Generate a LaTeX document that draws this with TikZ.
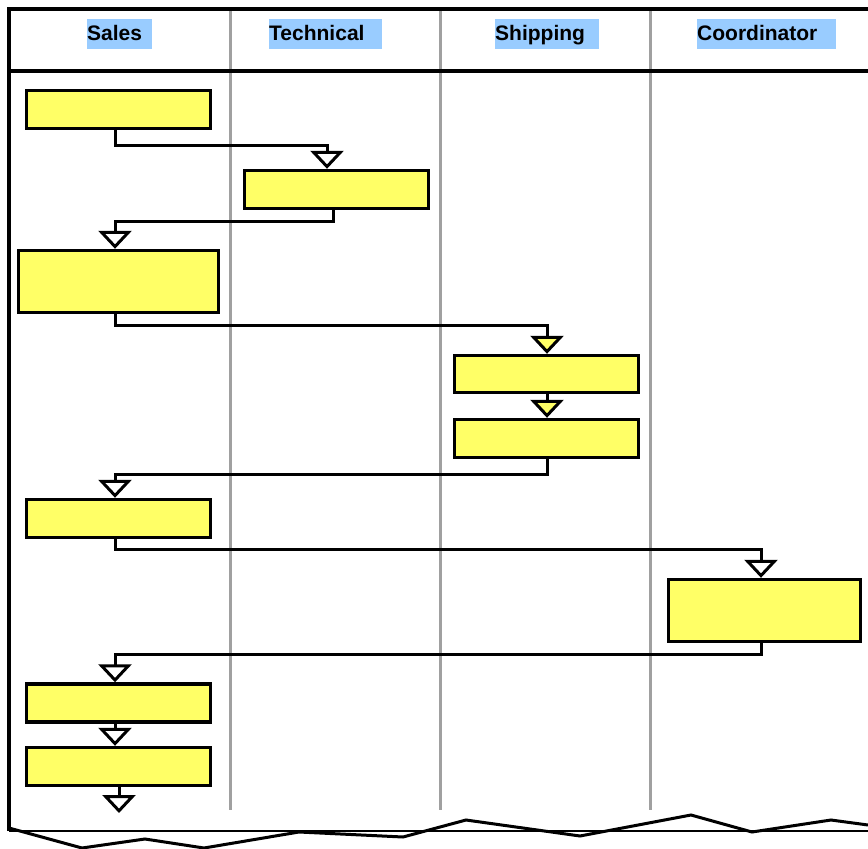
\documentclass[tikz,border=0pt]{standalone}
\usepackage{fontspec}
\setmainfont{Liberation Sans}
\usetikzlibrary{arrows.meta}
\definecolor{taskyellow}{HTML}{FFFF66}
\definecolor{headblue}{HTML}{99CCFF}
\definecolor{lanegray}{HTML}{A0A0A0}
\tikzset{
  task/.style={draw, line width=3.4pt, fill=taskyellow, inner sep=0pt, minimum width=184pt, minimum height=38pt},
  lanehead/.style={fill=headblue, anchor=west, inner sep=0pt, minimum height=30pt, text height=16pt, text depth=3pt, align=left, font=\fontsize{21}{25}\selectfont\bfseries},
  flow/.style={line width=3pt, line join=miter, -{Triangle[length=18pt, width=33pt, fill=white]}},
  flowy/.style={flow, -{Triangle[length=18pt, width=33pt, fill=taskyellow]}},
}
\begin{document}
\begin{tikzpicture}[x=1pt, y=-1pt]
        \useasboundingbox (0,0) rectangle (868,849);

        \foreach \x in {230,440,650}
          \draw[draw=lanegray, line width=3pt] (\x,9) -- (\x,810);
        \draw[line width=3.4pt] (9,831) -- (9,9) -- (868,9);
        \draw[line width=3.4pt] (9,71) -- (868,71);
        \draw[line width=1.6pt] (9,831) -- (868,831);
        \draw[line width=3pt] (9,828) -- (82,848) -- (145,839) -- (204,848) -- (299,832)
          -- (403,837) -- (466,820) -- (580,836) -- (691,815) -- (752,832) -- (831,820) -- (868,825);

        \node[lanehead, text width=65pt] (hs) at (87,34) {Sales};
        \node[lanehead, text width=113pt] (ht) at (269,34) {Technical};
        \node[lanehead, text width=104pt] (hh) at (495,34) {Shipping};
        \node[lanehead, text width=139pt] (hc) at (697,34) {Coordinator};

        \coordinate (sl) at (115,0);
        \coordinate (tin) at (327,0);
        \coordinate (tout) at (333,0);
        \coordinate (hl) at (547,0);
        \coordinate (cl) at (761,0);

        \node[task] (s1) at (118.5,109.5) {};
        \node[task] (t1) at (336.5,189.5) {};
        \node[task, minimum width=200pt, minimum height=62pt] (s2) at (118.5,281.5) {};
        \node[task, minimum height=37pt] (h1) at (546.5,374) {};
        \node[task] (h2) at (546.5,438.5) {};
        \node[task] (s3) at (118.5,518.5) {};
        \node[task, minimum width=192pt, minimum height=62pt] (c1) at (764.5,610.5) {};
        \node[task] (s4) at (118.5,703) {};
        \node[task] (s5) at (118.5,766.5) {};
        \coordinate (send) at (119,813);

        \draw[flow] (s1.south -| sl) -- ++(0,15) -| (t1.north -| tin);
        \draw[flow] (t1.south -| tout) -- ++(0,11) -| (s2.north -| sl);
        \draw[flowy] (s2.south -| sl) -- ++(0,11) -| (h1.north -| hl);
        \draw[flowy] (h1.south -| hl) -- (h2.north -| hl);
        \draw[flow] (h2.south -| hl) -- ++(0,15) -| (s3.north -| sl);
        \draw[flow] (s3.south -| sl) -- ++(0,10) -| (c1.north -| cl);
        \draw[flow] (c1.south -| cl) -- ++(0,11) -| (s4.north -| sl);
        \draw[flow] (s4.south -| sl) -- (s5.north -| sl);
        \draw[flow] (s5.south -| send) -- (send);
\end{tikzpicture}
\end{document}
